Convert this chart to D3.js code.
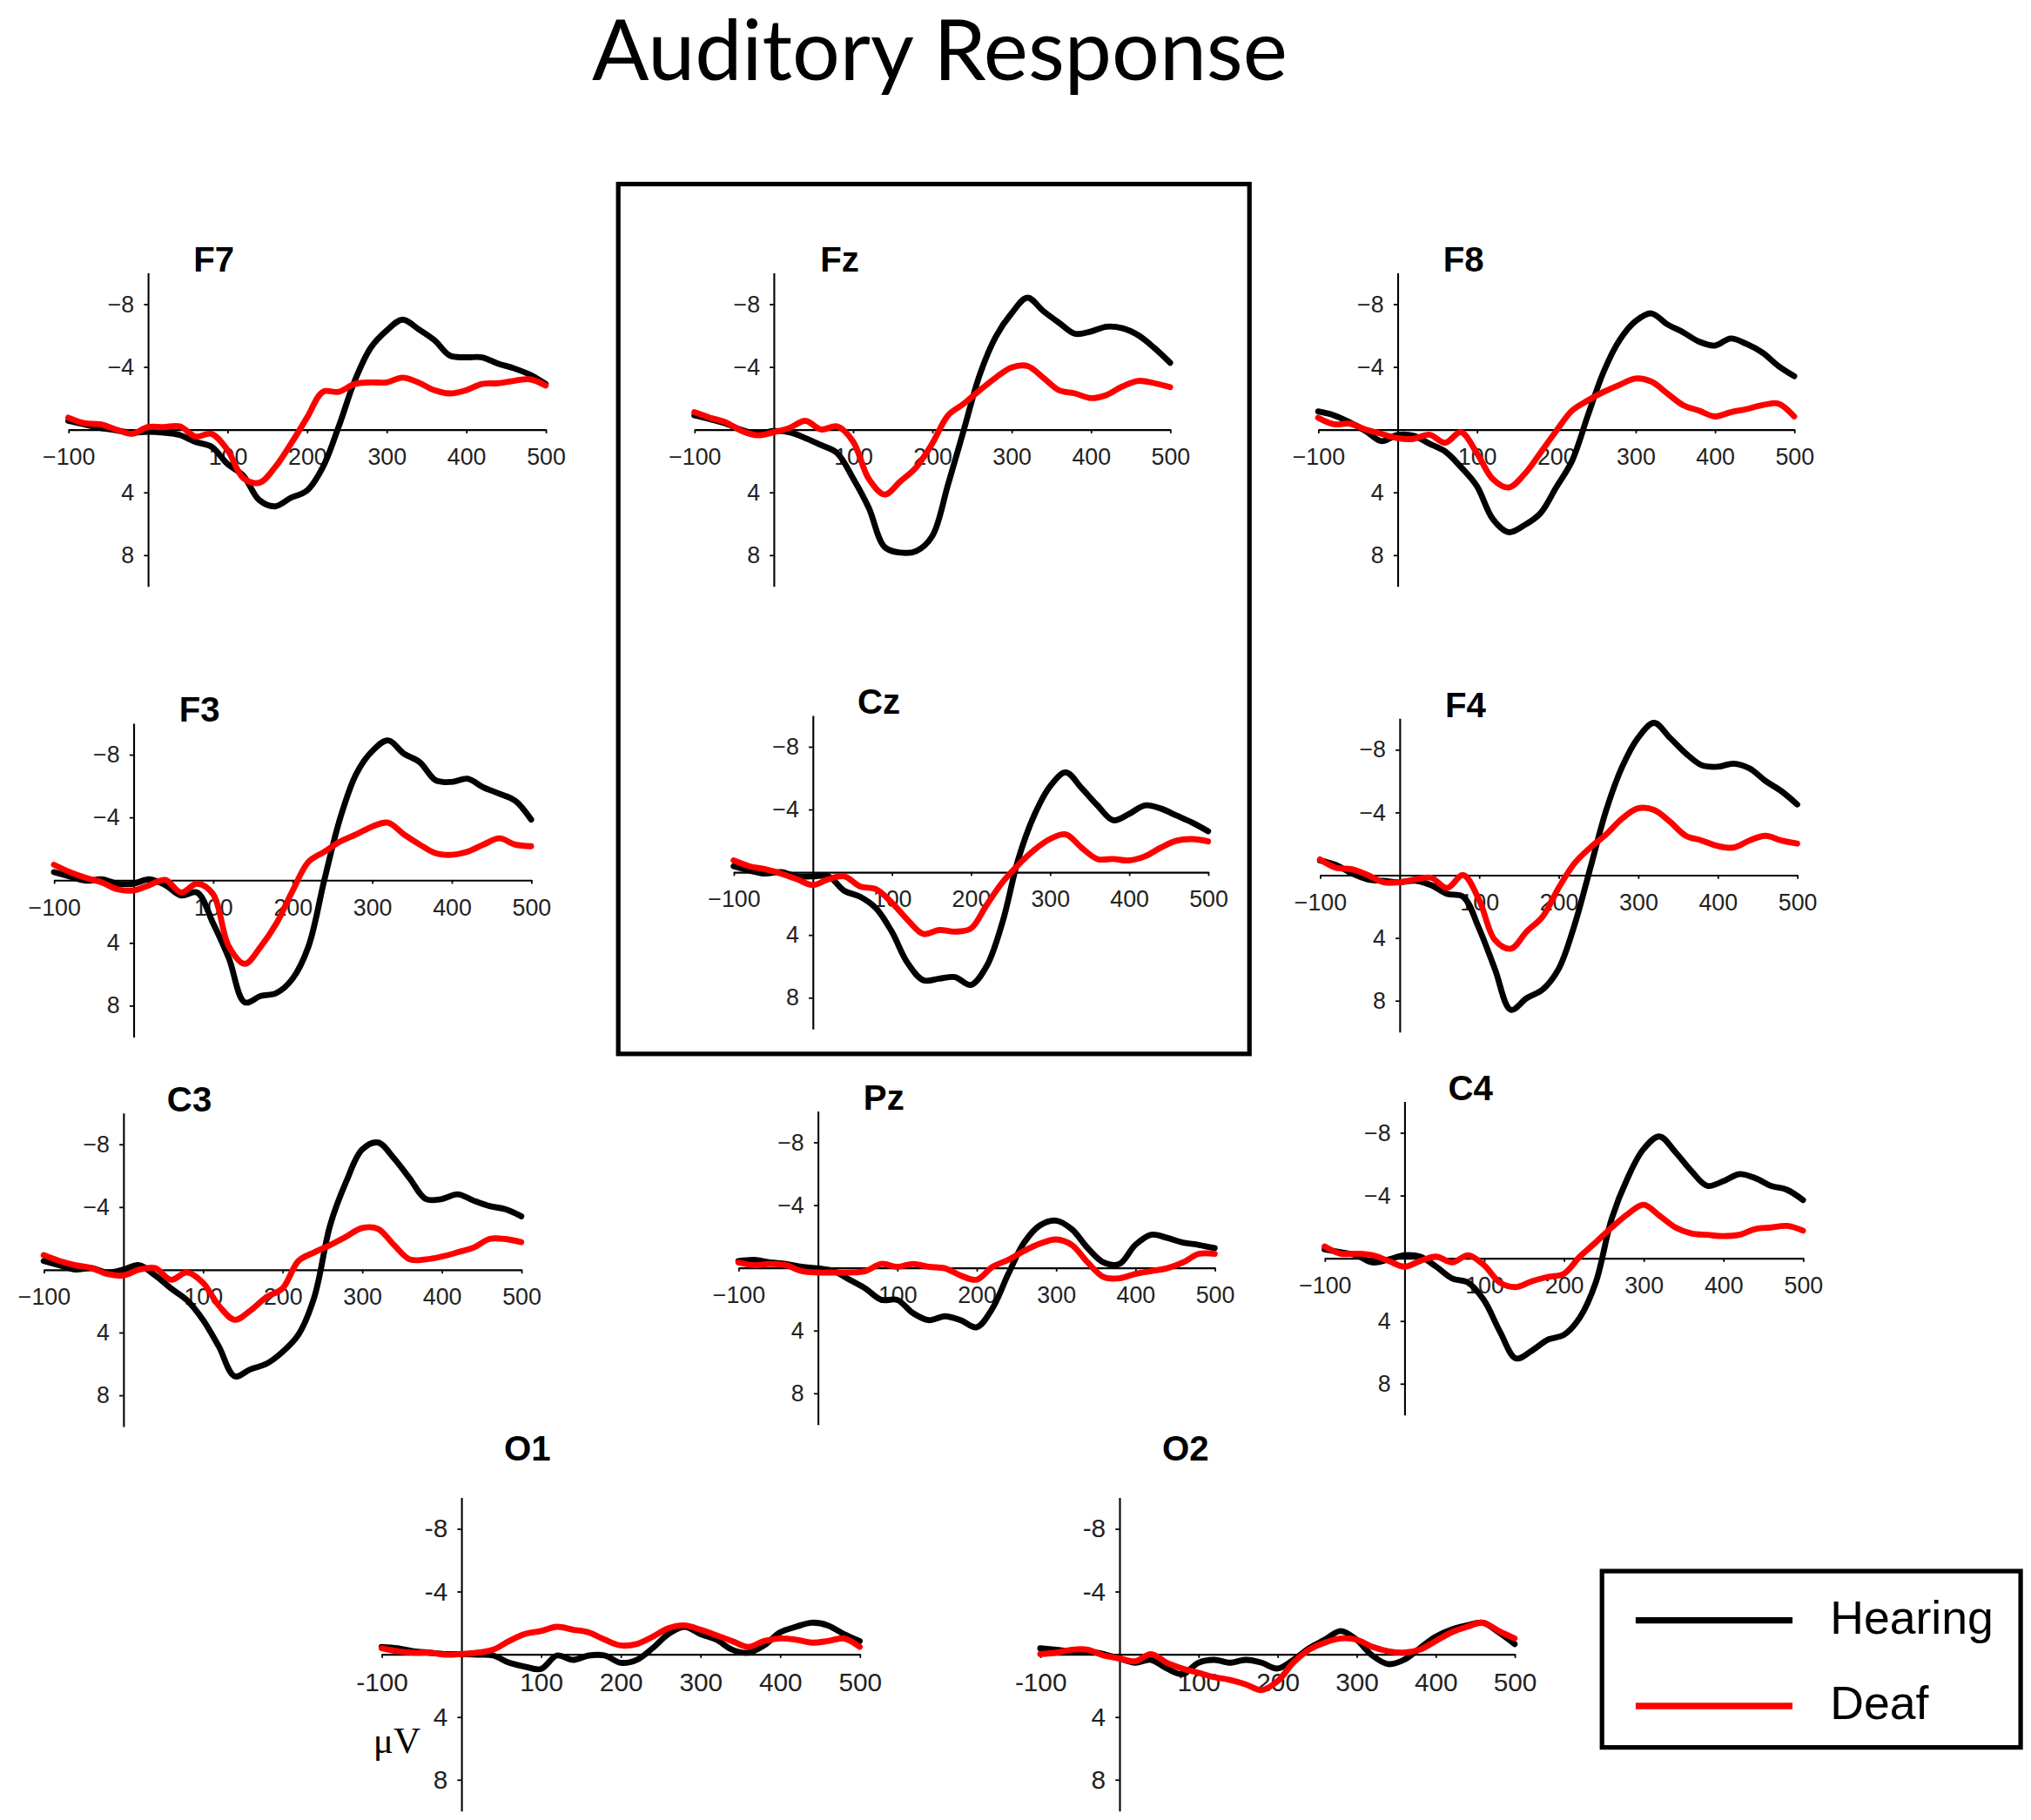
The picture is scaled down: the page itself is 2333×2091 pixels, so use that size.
<!DOCTYPE html>
<html>
<head>
<meta charset="utf-8">
<script src="https://cdnjs.cloudflare.com/ajax/libs/d3/7.8.5/d3.min.js"></script>
<style>
  html, body { margin: 0; padding: 0; background: #fff; overflow: hidden; }
  .tick text { font-family: "Liberation Sans", Arial, sans-serif; }
</style>
</head>
<body>
<div id="chart"></div>
<script>
// time points (ms)
var times = [-100, -80, -60, -40, -20, 0, 20, 40, 60, 80, 100, 120, 140, 160, 180, 200,
             220, 240, 260, 280, 300, 320, 340, 360, 380, 400, 420, 440, 460, 480, 500];

var channels = ["F7", "Fz", "F8", "F3", "Cz", "F4", "C3", "Pz", "C4", "O1", "O2"];
var groups = ["Hearing", "Deaf"];
var xTicks = [-100, 0, 100, 200, 300, 400, 500];
var xTickLabels = [-100, 100, 200, 300, 400, 500];
var yTicks = [-8, -4, 4, 8];

// amplitudes in microvolts (negative plotted up)
var hearingF7 = [-0.55,-0.33,-0.1,0.05,0.2,0.15,0.2,0.35,0.8,1.1,2.2,2.95,4.5,4.9,4.35,3.9,2.4,-0.2,-3.1,-5.2,-6.3,-7.0,-6.4,-5.7,-4.7,-4.6,-4.6,-4.2,-3.9,-3.5,-2.9];
var deafF7    = [-0.75,-0.4,-0.33,0,0.28,-0.15,-0.15,-0.2,0.45,0.28,1.3,3.1,3.4,2.4,0.9,-0.75,-2.4,-2.4,-2.9,-3.0,-3.0,-3.3,-3.0,-2.5,-2.3,-2.5,-2.9,-2.95,-3.1,-3.2,-2.8];

var hearingFz = [-0.9,-0.65,-0.37,0.04,0.28,0.1,0.18,0.55,1.0,1.5,3.1,5.0,7.5,7.85,7.75,6.8,3.5,0,-3.5,-5.9,-7.4,-8.4,-7.55,-6.8,-6.1,-6.25,-6.55,-6.45,-6.0,-5.2,-4.25];
var deafFz    = [-1.1,-0.75,-0.45,0.1,0.37,0.18,-0.1,-0.55,0,-0.2,0.75,3.15,4.15,3.3,2.4,0.9,-0.9,-1.65,-2.5,-3.3,-3.95,-4.05,-3.3,-2.5,-2.3,-2.0,-2.2,-2.75,-3.1,-2.95,-2.7];

var hearingF8 = [-1.15,-0.9,-0.45,0.1,0.75,0.35,0.4,0.9,1.4,2.4,3.6,5.7,6.55,6.1,5.35,3.7,2.0,-0.9,-3.7,-5.7,-6.9,-7.4,-6.7,-6.2,-5.6,-5.35,-5.8,-5.45,-4.9,-4.05,-3.4];
var deafF8    = [-0.75,-0.33,-0.37,0,0.28,0.55,0.6,0.33,0.85,0.18,1.5,3.15,3.7,2.85,1.5,0.1,-1.2,-1.85,-2.4,-2.85,-3.25,-3.05,-2.3,-1.55,-1.2,-0.83,-1.1,-1.3,-1.55,-1.65,-0.83];

var hearingF3 = [-0.5,-0.22,0.05,-0.04,0.24,0.24,-0.04,0.33,0.99,0.8,2.75,5.0,7.8,7.4,7.2,6.3,4.25,0,-3.95,-6.75,-8.2,-8.9,-8.05,-7.5,-6.35,-6.25,-6.45,-5.9,-5.5,-5.05,-3.85];
var deafF3    = [-0.97,-0.5,-0.13,0.15,0.6,0.67,0.33,0,0.8,0.24,0.9,4.25,5.35,4.25,2.75,0.7,-1.15,-1.8,-2.45,-2.9,-3.4,-3.65,-2.9,-2.25,-1.7,-1.6,-1.8,-2.25,-2.65,-2.25,-2.15];

var hearingCz = [-0.37,-0.1,0.1,0,0.28,0.28,0.28,1.2,1.57,2.3,3.8,5.8,6.9,6.8,6.7,7.2,6.0,3.2,-0.83,-3.6,-5.45,-6.35,-5.35,-4.25,-3.3,-3.7,-4.25,-4.05,-3.6,-3.15,-2.6];
var deafCz    = [-0.74,-0.37,-0.18,0.1,0.46,0.83,0.46,0.28,0.92,1.1,1.95,3.05,3.95,3.7,3.8,3.6,2.1,0.65,-0.46,-1.4,-2.1,-2.4,-1.55,-0.83,-0.83,-0.74,-1.0,-1.55,-2.0,-2.1,-1.95];

var hearingF4 = [-0.92,-0.65,-0.1,0.28,0.37,0.46,0.37,0.65,1.2,1.38,3.4,6.0,8.6,7.85,7.3,6.0,3.2,-0.46,-4.15,-6.9,-8.75,-9.7,-8.75,-7.75,-7.0,-6.9,-7.1,-6.8,-6.0,-5.35,-4.5];
var deafF4    = [-1.0,-0.46,-0.37,0,0.46,0.46,0.28,0.18,0.83,0,1.57,4.15,4.7,3.6,2.65,0.83,-0.74,-1.75,-2.6,-3.6,-4.25,-4.15,-3.4,-2.5,-2.2,-1.85,-1.75,-2.2,-2.5,-2.2,-2.0];

var hearingC3 = [-0.55,-0.28,0,-0.1,0.18,0,-0.28,0.37,1.2,1.95,3.2,4.9,6.8,6.35,6.0,5.25,4.15,1.75,-2.85,-5.6,-7.65,-8.1,-7.1,-5.8,-4.5,-4.5,-4.8,-4.4,-4.05,-3.85,-3.4];
var deafC3    = [-0.92,-0.55,-0.28,-0.1,0.28,0.37,0,-0.1,0.65,0.18,0.83,2.3,3.2,2.6,1.75,1.2,-0.55,-1.1,-1.57,-2.1,-2.65,-2.6,-1.57,-0.65,-0.65,-0.83,-1.1,-1.4,-1.95,-1.95,-1.75];

var hearingPz = [-0.42,-0.5,-0.33,-0.24,-0.05,0.04,0.22,0.77,1.33,2.05,2.05,2.9,3.35,3.1,3.35,3.8,2.6,0.4,-1.6,-2.7,-3.0,-2.45,-1.25,-0.33,-0.24,-1.45,-2.1,-1.9,-1.6,-1.45,-1.25];
var deafPz    = [-0.33,-0.15,-0.24,-0.15,0.22,0.31,0.31,0.31,0.22,-0.24,-0.05,-0.24,-0.05,0.04,0.5,0.77,-0.05,-0.5,-1.07,-1.53,-1.8,-1.45,-0.33,0.6,0.68,0.4,0.22,0.04,-0.33,-0.88,-0.88];

var hearingC4 = [-0.55,-0.37,-0.18,0.28,0.09,-0.18,-0.09,0.55,1.3,1.57,2.7,4.7,6.4,5.9,5.2,4.9,3.8,1.57,-2.5,-5.1,-6.95,-7.75,-6.75,-5.55,-4.6,-4.9,-5.35,-5.1,-4.6,-4.35,-3.7];
var deafC4    = [-0.74,-0.28,-0.28,-0.18,0.18,0.55,0.18,-0.09,0.28,-0.18,0.46,1.57,1.85,1.48,1.2,1.0,-0.09,-1.0,-1.95,-2.8,-3.4,-2.7,-1.95,-1.57,-1.48,-1.4,-1.48,-1.85,-1.95,-2.05,-1.75];

var hearingO1 = [-0.46,-0.37,-0.18,-0.09,0,0,0.04,0.09,0.55,0.8,0.95,0.09,0.37,0.09,0.09,0.55,0.37,-0.37,-1.28,-1.74,-1.28,-0.92,-0.28,-0.09,-0.55,-1.38,-1.74,-2.0,-1.83,-1.28,-0.83];
var deafO1    = [-0.37,-0.18,-0.09,-0.09,0.04,0,-0.09,-0.28,-0.83,-1.28,-1.47,-1.74,-1.56,-1.38,-0.92,-0.55,-0.64,-1.1,-1.65,-1.83,-1.56,-1.2,-0.83,-0.46,-0.83,-1.0,-0.92,-0.73,-0.83,-1.0,-0.46];

var hearingO2 = [-0.37,-0.28,-0.18,-0.18,0,0.28,0.55,0.37,0.92,1.28,0.55,0.37,0.55,0.37,0.55,0.92,0.37,-0.37,-0.92,-1.47,-0.92,0.09,0.64,0.37,-0.37,-1.1,-1.56,-1.83,-2.0,-1.38,-0.64];
var deafO2    = [0,-0.09,-0.28,-0.28,0.09,0.28,0.46,0,0.55,0.92,1.19,1.47,1.65,1.93,2.3,1.74,0.55,-0.28,-0.73,-1.0,-0.92,-0.46,-0.18,-0.09,-0.28,-0.83,-1.38,-1.74,-2.0,-1.47,-1.0];

var series = {
    F7: [hearingF7, deafF7], Fz: [hearingFz, deafFz], F8: [hearingF8, deafF8],
    F3: [hearingF3, deafF3], Cz: [hearingCz, deafCz], F4: [hearingF4, deafF4],
    C3: [hearingC3, deafC3], Pz: [hearingPz, deafPz], C4: [hearingC4, deafC4],
    O1: [hearingO1, deafO1], O2: [hearingO2, deafO2]
};

// panel placement (in the 1567 x 1404 drawing space)
// x0 = pixel of -100 ms, x1 = pixel of 500 ms, y0 = pixel of 0 uV
var layout = {
    F7: { x0: 52.7,   x1: 421,    y0: 331.3 },
    Fz: { x0: 535.7,  x1: 902.8,  y0: 331.3 },
    F8: { x0: 1017,   x1: 1384.3, y0: 331.3 },
    F3: { x0: 41.6,   x1: 409.8,  y0: 678.8 },
    Cz: { x0: 566,    x1: 932.1,  y0: 672.7 },
    F4: { x0: 1018.4, x1: 1386.6, y0: 675 },
    C3: { x0: 33.7,   x1: 402.2,  y0: 979.4 },
    Pz: { x0: 569.7,  x1: 937.2,  y0: 977.9 },
    C4: { x0: 1022,   x1: 1391.1, y0: 970.5 },
    O1: { x0: 294.4,  x1: 663.3,  y0: 1276, titleDy: -149, narrow: true },
    O2: { x0: 802.6,  x1: 1168.6, y0: 1276, titleDy: -149, narrow: true }
};

var colors = ["#000000", "#ff0000"];
var halfH = 121;   // pixels for 10 uV

var svg = d3.select("#chart")
    .append("svg")
    .attr("width", 2333)
    .attr("height", 2091)
    .attr("viewBox", "0 0 1567 1404")
    .attr("preserveAspectRatio", "none")
    .style("display", "block");

svg.append("rect").attr("width", 1567).attr("height", 1404).attr("fill", "#fff");

// main title
svg.append("text")
    .attr("x", 725)
    .attr("y", 62)
    .attr("text-anchor", "middle")
    .style("font-family", "Lato, 'Open Sans', sans-serif")
    .style("font-size", "65px")
    .text("Auditory Response");

// frame round the midline panels
svg.append("rect")
    .attr("x", 477).attr("y", 142)
    .attr("width", 487).attr("height", 671)
    .attr("fill", "none")
    .attr("stroke", "#000")
    .attr("stroke-width", 3.5);

channels.forEach(function (ch) {
    var L = layout[ch];
    var x = d3.scaleLinear().domain([-100, 500]).range([L.x0, L.x1]);
    var y = d3.scaleLinear().domain([-10, 10]).range([L.y0 - halfH, L.y0 + halfH]);
    var g = svg.append("g");
    var fmt = L.narrow ? function (d) { return String(d); } : function (d) { return d3.format("")(d); };
    var tickFont = L.narrow ? "'Liberation Sans Narrow', 'Liberation Sans', Arial, sans-serif" : "'Liberation Sans', Arial, sans-serif";
    var tickSize = L.narrow ? "20px" : "18px";

    // x axis on the zero line
    var xa = g.append("g")
        .attr("transform", "translate(0," + y(0) + ")")
        .call(d3.axisBottom(x).tickValues(xTicks).tickSizeInner(3).tickSizeOuter(0).tickPadding(11.5)
            .tickFormat(function (d) { return xTickLabels.indexOf(d) < 0 ? "" : fmt(d); }));

    // y axis at 0 ms
    var ya = g.append("g")
        .attr("transform", "translate(" + x(0) + ",0)")
        .call(d3.axisLeft(y).tickValues(yTicks).tickSizeInner(3).tickSizeOuter(0).tickPadding(7.5)
            .tickFormat(fmt));

    [xa, ya].forEach(function (a) {
        a.select(".domain").attr("stroke-width", 1.4);
        a.selectAll(".tick line").attr("stroke-width", 1.2);
        a.selectAll(".tick text")
            .style("font-family", tickFont)
            .style("font-size", tickSize)
            .attr("fill", "#222");
    });

    // channel label
    g.append("text")
        .attr("x", x(0) + 51)
        .attr("y", y(0) + (L.titleDy || -122))
        .attr("text-anchor", "middle")
        .style("font-family", "'Liberation Sans', Arial, sans-serif")
        .style("font-weight", "bold")
        .style("font-size", "27px")
        .text(ch);

    var line = d3.line()
        .x(function (d, i) { return x(times[i]); })
        .y(function (d) { return y(d); })
        .curve(d3.curveCatmullRom.alpha(0.5));

    series[ch].forEach(function (vals, k) {
        g.append("path")
            .datum(vals)
            .attr("d", line)
            .attr("fill", "none")
            .attr("stroke", colors[k])
            .attr("stroke-width", 4.6)
            .attr("stroke-linejoin", "round")
            .attr("stroke-linecap", "round");
    });
});

// unit label
svg.append("text")
    .attr("x", 288)
    .attr("y", 1352)
    .style("font-family", "'Liberation Serif', 'Times New Roman', serif")
    .style("font-size", "29px")
    .text("\u03bcV");

// legend
var legend = svg.append("g");
legend.append("rect")
    .attr("x", 1236).attr("y", 1212)
    .attr("width", 323).attr("height", 136)
    .attr("fill", "#fff")
    .attr("stroke", "#000")
    .attr("stroke-width", 3.5);

groups.forEach(function (name, i) {
    var ly = 1250 + i * 66;
    legend.append("line")
        .attr("x1", 1262).attr("x2", 1383)
        .attr("y1", ly).attr("y2", ly)
        .attr("stroke", colors[i])
        .attr("stroke-width", 5);
    legend.append("text")
        .attr("x", 1412)
        .attr("y", ly + 10)
        .style("font-family", "'Liberation Sans', Arial, sans-serif")
        .style("font-size", "36px")
        .text(name);
});
</script>
</body>
</html>
